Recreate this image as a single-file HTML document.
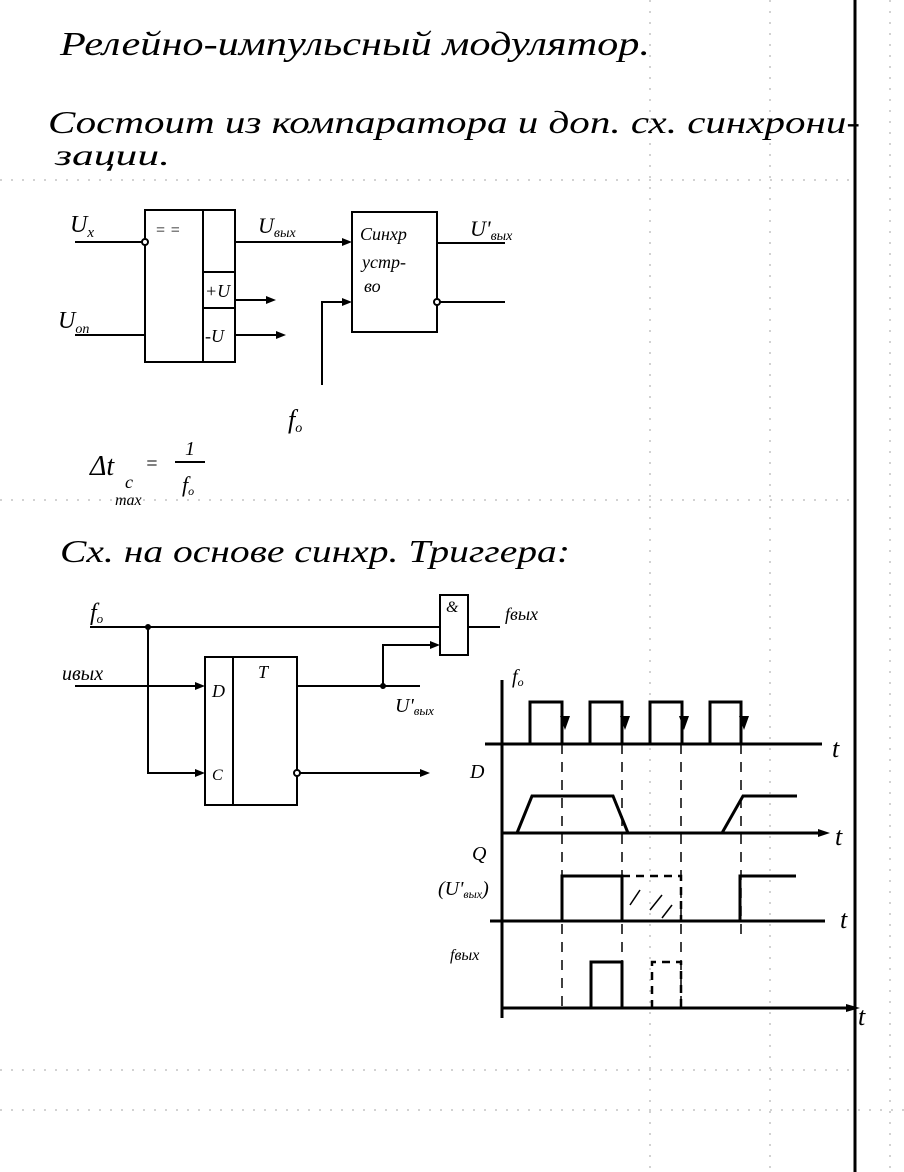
<!DOCTYPE html>
<html><head><meta charset="utf-8"><style>
body{margin:0;background:#fff}
svg{display:block}
text{font-family:"Liberation Serif",serif;font-style:italic;fill:#000}
</style></head><body>
<svg width="904" height="1172" viewBox="0 0 904 1172" xmlns="http://www.w3.org/2000/svg">
<g stroke="#000" stroke-width="1" stroke-dasharray="2 9" opacity="0.35">
<line x1="0" y1="180" x2="850" y2="180"/><line x1="0" y1="500" x2="850" y2="500"/>
<line x1="0" y1="1070" x2="850" y2="1070"/><line x1="0" y1="1110" x2="904" y2="1110"/>
<line x1="770" y1="0" x2="770" y2="1172"/><line x1="650" y1="0" x2="650" y2="1172"/>
<line x1="890" y1="0" x2="890" y2="1172"/>
</g>
<line x1="855" y1="0" x2="855" y2="1172" stroke="#000" stroke-width="3"/>
<text x="60" y="55" font-size="34" textLength="590" lengthAdjust="spacingAndGlyphs">Релейно-импульсный модулятор.</text>
<text x="48" y="133" font-size="32" textLength="812" lengthAdjust="spacingAndGlyphs">Состоит из компаратора и доп. сх. синхрони-</text>
<text x="55" y="165" font-size="30" textLength="115" lengthAdjust="spacingAndGlyphs">зации.</text>

<g stroke="#000" stroke-width="2" fill="none">
<rect x="145" y="210" width="90" height="152"/>
<line x1="203" y1="210" x2="203" y2="362"/>
<line x1="203" y1="272" x2="235" y2="272"/>
<line x1="203" y1="308" x2="235" y2="308"/>
<line x1="75" y1="242" x2="142" y2="242"/><circle cx="145" cy="242" r="3" fill="#fff"/>
<line x1="75" y1="335" x2="145" y2="335"/>
<line x1="235" y1="242" x2="348" y2="242"/>
<line x1="235" y1="300" x2="272" y2="300"/>
<line x1="235" y1="335" x2="282" y2="335"/>
<rect x="352" y="212" width="85" height="120"/>
<line x1="437" y1="243" x2="505" y2="243"/>
<line x1="440" y1="302" x2="505" y2="302"/><circle cx="437" cy="302" r="3" fill="#fff"/>
<polyline points="322,385 322,302 348,302"/>
</g>
<g fill="#000">
<polygon points="352,242 342,238 342,246"/><polygon points="276,300 266,296 266,304"/>
<polygon points="286,335 276,331 276,339"/><polygon points="352,302 342,298 342,306"/>
</g>
<text x="155" y="235" font-size="16">= =</text>
<text x="205" y="297" font-size="18">+U</text>
<text x="205" y="342" font-size="18">-U</text>
<text x="70" y="232" font-size="24">U<tspan font-size="15" dy="5">x</tspan></text>
<text x="58" y="328" font-size="24">U<tspan font-size="14" dy="5">оп</tspan></text>
<text x="258" y="233" font-size="22">U<tspan font-size="14" dy="4">вых</tspan></text>
<text x="470" y="236" font-size="22">U'<tspan font-size="14" dy="4">вых</tspan></text>
<text x="360" y="240" font-size="18">Синхр</text>
<text x="362" y="268" font-size="18">устр-</text>
<text x="364" y="292" font-size="18">во</text>
<text x="288" y="428" font-size="26">f<tspan font-size="14" dy="4">o</tspan></text>
<text x="90" y="475" font-size="28">Δt</text>
<text x="125" y="488" font-size="18">c</text>
<text x="115" y="505" font-size="16">max</text>
<text x="145" y="470" font-size="20">=</text>
<text x="185" y="455" font-size="20">1</text>
<line x1="175" y1="462" x2="205" y2="462" stroke="#000" stroke-width="2"/>
<text x="182" y="492" font-size="22">f<tspan font-size="12" dy="3">o</tspan></text>

<text x="60" y="562" font-size="32" textLength="510" lengthAdjust="spacingAndGlyphs">Сх. на основе синхр. Триггера:</text>

<g stroke="#000" stroke-width="2" fill="none">
<line x1="90" y1="627" x2="440" y2="627"/>
<rect x="440" y="595" width="28" height="60"/>
<line x1="468" y1="627" x2="500" y2="627"/>
<polyline points="148,627 148,773 202,773"/>
<line x1="75" y1="686" x2="202" y2="686"/>
<rect x="205" y="657" width="92" height="148"/>
<line x1="233" y1="657" x2="233" y2="805"/>
<line x1="297" y1="686" x2="420" y2="686"/>
<polyline points="383,686 383,645 436,645"/>
<line x1="300" y1="773" x2="425" y2="773"/><circle cx="297" cy="773" r="3" fill="#fff"/>
</g>
<g fill="#000">
<circle cx="148" cy="627" r="3"/><circle cx="383" cy="686" r="3"/>
<polygon points="205,686 195,682 195,690"/><polygon points="205,773 195,769 195,777"/>
<polygon points="440,645 430,641 430,649"/><polygon points="430,773 420,769 420,777"/>
</g>
<text x="446" y="612" font-size="16">&amp;</text>
<text x="258" y="678" font-size="18">T</text>
<text x="212" y="697" font-size="18">D</text>
<text x="212" y="780" font-size="16">C</text>
<text x="90" y="620" font-size="24">f<tspan font-size="13" dy="3">o</tspan></text>
<text x="62" y="680" font-size="20">uвых</text>
<text x="505" y="620" font-size="18">fвых</text>
<text x="395" y="712" font-size="20">U'<tspan font-size="13" dy="3">вых</tspan></text>

<g stroke="#000" stroke-width="3" fill="none">
<line x1="502" y1="680" x2="502" y2="1018"/>
<line x1="485" y1="744" x2="822" y2="744"/>
<polyline points="530,744 530,702 562,702 562,744 590,744 590,702 622,702 622,744 650,744 650,702 682,702 682,744 710,744 710,702 741,702 741,744"/>
<line x1="502" y1="833" x2="822" y2="833"/>
<polyline points="517,833 532,796 613,796 628,833"/>
<polyline points="722,833 743,796 797,796"/>
<line x1="490" y1="921" x2="825" y2="921"/>
<polyline points="562,921 562,876 622,876 622,921"/>
<polyline points="740,921 740,876 796,876"/>
<line x1="502" y1="1008" x2="850" y2="1008"/>
<polyline points="591,1008 591,962 622,962 622,1008"/>
</g>
<g stroke="#000" stroke-width="2.5" fill="none" stroke-dasharray="8 6">
<polyline points="622,876 681,876 681,921"/>
<polyline points="652,1008 652,962 681,962 681,1008"/>
</g>
<g stroke="#000" stroke-width="1.5" fill="none" stroke-dasharray="10 8">
<line x1="562" y1="744" x2="562" y2="1010"/><line x1="622" y1="744" x2="622" y2="1010"/>
<line x1="681" y1="744" x2="681" y2="1010"/><line x1="741" y1="744" x2="741" y2="940"/>
</g>
<g stroke="#000" stroke-width="1.5"><line x1="630" y1="905" x2="640" y2="890"/><line x1="650" y1="910" x2="662" y2="895"/><line x1="662" y1="918" x2="672" y2="905"/></g>
<g fill="#000">
<polygon points="565,730 560,716 570,716"/><polygon points="625,730 620,716 630,716"/>
<polygon points="684,730 679,716 689,716"/><polygon points="744,730 739,716 749,716"/>
<polygon points="830,833 818,829 818,837"/><polygon points="860,1008 846,1004 846,1012"/>
</g>
<text x="512" y="683" font-size="20">f<tspan font-size="12" dy="3">o</tspan></text>
<text x="832" y="757" font-size="26">t</text>
<text x="835" y="845" font-size="26">t</text>
<text x="840" y="928" font-size="26">t</text>
<text x="858" y="1025" font-size="26">t</text>
<text x="470" y="778" font-size="20">D</text>
<text x="472" y="860" font-size="20">Q</text>
<text x="438" y="895" font-size="20">(U'<tspan font-size="12" dy="3">вых</tspan><tspan dy="-3">)</tspan></text>
<text x="450" y="960" font-size="16">fвых</text>
</svg>
</body></html>
